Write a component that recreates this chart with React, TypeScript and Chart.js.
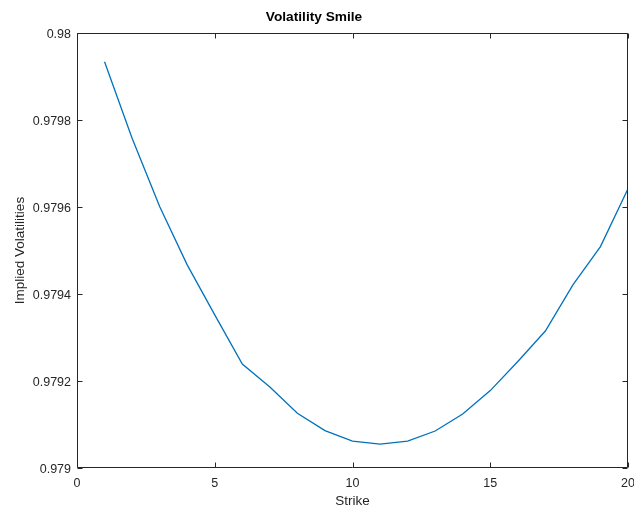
import React, { useEffect, useRef } from "react";
import { Chart, registerables } from "chart.js";

Chart.register(...registerables);

const strikes = [1, 2, 3, 4, 5, 6, 7, 8, 9, 10, 11, 12, 13, 14, 15, 16, 17, 18, 19, 20];
const impliedVols = [
  0.979934, 0.979758, 0.979601, 0.979467, 0.979352, 0.979239, 0.979186, 0.979126,
  0.979086, 0.979062, 0.979055, 0.979062, 0.979085, 0.979124, 0.979178, 0.979245,
  0.979315, 0.979421, 0.979509, 0.979642,
];
const xTicks = [0, 5, 10, 15, 20];
const yTicks = [0.979, 0.9792, 0.9794, 0.9796, 0.9798, 0.98];

const TITLE = "Volatility Smile";
const X_LABEL = "Strike";
const Y_LABEL = "Implied Volatilities";

const AXIS_COLOR = "#262626";
const FONT = "'Liberation Sans', Arial, Helvetica, sans-serif";

const framePlugin = {
  id: "matlabFrame",
  afterDraw(chart: any) {
    const { ctx, chartArea } = chart;
    const { left, right, top, bottom } = chartArea;
    const xs = chart.scales.x;
    const ys = chart.scales.y;
    const L = Math.round(left) + 0.5;
    const R = Math.round(right) - 0.5;
    const T = Math.round(top) + 0.5;
    const B = Math.round(bottom) - 0.5;
    const tl = 5;
    ctx.save();
    ctx.strokeStyle = AXIS_COLOR;
    ctx.lineWidth = 1;
    ctx.beginPath();
    ctx.rect(L, T, R - L, B - T);
    ctx.stroke();
    ctx.beginPath();
    for (const v of xTicks) {
      const px = Math.round(xs.getPixelForValue(v)) + 0.5;
      ctx.moveTo(px, B);
      ctx.lineTo(px, B - tl);
      ctx.moveTo(px, T);
      ctx.lineTo(px, T + tl);
    }
    for (const v of yTicks) {
      const py = Math.round(ys.getPixelForValue(v)) + 0.5;
      ctx.moveTo(L, py);
      ctx.lineTo(L + tl, py);
      ctx.moveTo(R, py);
      ctx.lineTo(R - tl, py);
    }
    ctx.stroke();
    ctx.restore();
  },
};

export default function App() {
  const ref = useRef<HTMLCanvasElement | null>(null);
  useEffect(() => {
    document.body.style.margin = "0";
    const canvas = ref.current!;
    const chart = new Chart(canvas, {
      type: "line",
      data: {
        datasets: [
          {
            data: strikes.map((s, i) => ({ x: s, y: impliedVols[i] })),
            borderColor: "#0072BD",
            borderWidth: 1.3,
            pointRadius: 0,
            fill: false,
            tension: 0,
          },
        ],
      },
      options: {
        animation: false,
        responsive: false,
        devicePixelRatio: 1,
        layout: { padding: { left: 0, right: 6, top: 0, bottom: 0 } },
        plugins: {
          legend: { display: false },
          tooltip: { enabled: false },
          title: {
            display: true,
            text: TITLE,
            color: "#000",
            font: { family: FONT, size: 13.7, weight: "bold" },
            padding: { top: 9, bottom: 7.6 },
          },
        },
        scales: {
          x: {
            type: "linear",
            min: 0,
            max: 20,
            afterBuildTicks: (s: any) => {
              s.ticks = xTicks.map((v) => ({ value: v }));
            },
            afterFit: (s: any) => {
              s.height = 42;
              s.paddingLeft = 0;
              s.paddingRight = 0;
            },
            grid: { display: false, drawTicks: false },
            border: { display: false },
            ticks: {
              color: AXIS_COLOR,
              font: { family: FONT, size: 12.5 },
              padding: 8,
              maxRotation: 0,
              callback: (v: any) => String(v),
            },
            title: {
              display: true,
              text: X_LABEL,
              color: AXIS_COLOR,
              font: { family: FONT, size: 13.5 },
              padding: { top: 0, bottom: 1 },
            },
          },
          y: {
            type: "linear",
            min: 0.979,
            max: 0.98,
            afterBuildTicks: (s: any) => {
              s.ticks = yTicks.map((v) => ({ value: v }));
            },
            afterFit: (s: any) => {
              s.width = 77;
              s.paddingTop = 0;
              s.paddingBottom = 0;
            },
            grid: { display: false, drawTicks: false },
            border: { display: false },
            ticks: {
              color: AXIS_COLOR,
              font: { family: FONT, size: 12.5 },
              padding: 6,
              labelOffset: 2,
              callback: (v: any) => String(Number(Number(v).toFixed(4))),
            },
            title: {
              display: true,
              text: Y_LABEL,
              color: AXIS_COLOR,
              font: { family: FONT, size: 13.5 },
              padding: { top: 12, bottom: 0 },
            },
          },
        },
      },
      plugins: [framePlugin],
    });
    return () => chart.destroy();
  }, []);
  return (
    <div style={{ width: 634, height: 510 }}>
      <canvas ref={ref} width={634} height={510} />
    </div>
  );
}
